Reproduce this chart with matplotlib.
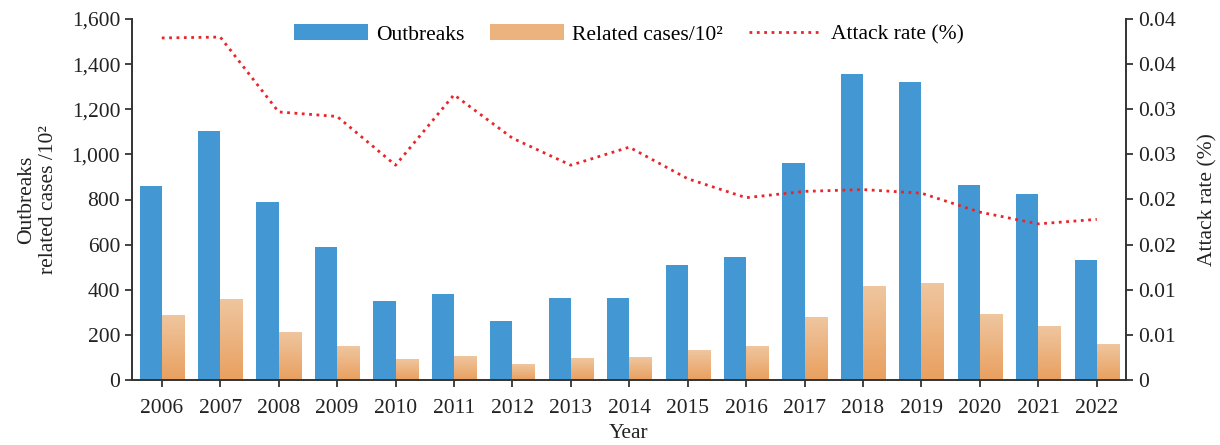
import numpy as np
import matplotlib
matplotlib.use('Agg')
import matplotlib.pyplot as plt
from matplotlib.patches import Patch
from matplotlib.lines import Line2D

plt.rcParams['font.family'] = ['Liberation Serif', 'DejaVu Serif']
plt.rcParams['font.size'] = 15.5

# ---- data
years = list(range(2006, 2023))
outbreaks = [860, 1105, 790, 590, 352, 380, 262, 362, 365, 510, 545, 960, 1355, 1320, 865, 825, 530]
cases_100 = [285, 358, 212, 150, 92, 105, 70, 97, 100, 132, 150, 277, 415, 428, 290, 238, 158]
attack_rate = [0.0379, 0.0380, 0.0297, 0.0292, 0.0238, 0.0316, 0.0268, 0.0238, 0.0258,
               0.0223, 0.0202, 0.0209, 0.0211, 0.0207, 0.0186, 0.0173, 0.0178]
left_ticks = [0, 200, 400, 600, 800, 1000, 1200, 1400, 1600]
right_ticks = [0, 0.005, 0.01, 0.015, 0.02, 0.025, 0.03, 0.035, 0.04]
right_labels = ['0', '0.01', '0.01', '0.02', '0.02', '0.03', '0.03', '0.04', '0.04']

blue = '#4398D3'
orange_top = np.array([0.937, 0.776, 0.624])
orange_bot = np.array([0.914, 0.627, 0.373])
red = '#E8262A'

fig = plt.figure(figsize=(12.2, 4.45), dpi=100)
ax = fig.add_axes([132 / 1220, 1 - 380 / 445, (1126 - 132) / 1220, (380 - 19) / 445])

x = np.arange(len(years))
w = 0.38
ax.bar(x - w / 2, outbreaks, width=w, color=blue, zorder=2)
obars = ax.bar(x + w / 2, cases_100, width=w, color='none', zorder=2)

# vertical gradient for the orange bars
grad = np.linspace(0, 1, 256)[:, None, None]
img = orange_bot + (orange_top - orange_bot) * grad
for b in obars:
    x0, h = b.get_x(), b.get_height()
    ax.imshow(img, extent=(x0, x0 + b.get_width(), 0, h), origin='lower',
              aspect='auto', zorder=2, interpolation='bilinear')

ax.set_xlim(-0.51, len(years) - 0.5)
ax.set_ylim(0, 1600)
ax.set_yticks(left_ticks)
ax.set_yticklabels([f'{v:,}' for v in left_ticks])
ax.set_xticks(x)
ax.set_xticklabels(years)
ax.tick_params(axis='both', direction='out', length=5, width=1.2, colors='#222222',
               labelcolor='#222222')
ax.tick_params(axis='x', pad=9)
for s in ['top', 'right']:
    ax.spines[s].set_visible(False)
for s in ['left', 'bottom']:
    ax.spines[s].set_linewidth(1.4)
    ax.spines[s].set_color('#333333')
ax.set_ylabel('Outbreaks\nrelated cases /10²', labelpad=10, color='#222222')
ax.set_xlabel('Year', labelpad=4, color='#222222')

ax2 = ax.twinx()
ax2.plot(x, attack_rate, linestyle=':', color=red, linewidth=2)
ax2.set_ylim(0, 0.04)
ax2.set_yticks(right_ticks)
ax2.set_yticklabels(right_labels)
ax2.tick_params(axis='y', direction='out', length=5, width=1.2, colors='#222222')
for s in ['top', 'left', 'bottom']:
    ax2.spines[s].set_visible(False)
ax2.spines['right'].set_linewidth(1.4)
ax2.spines['right'].set_color('#333333')
ax2.set_ylabel('Attack rate (%)', labelpad=16, color='#222222')

handles = [Patch(facecolor=blue),
           Patch(facecolor=(orange_top + orange_bot) / 2),
           Line2D([], [], linestyle=':', color=red, linewidth=2)]
labels = ['Outbreaks', 'Related cases/10²', 'Attack rate (%)']
ax2.legend(handles, labels, loc='upper center', bbox_to_anchor=(0.5, 1.04), ncol=3,
           frameon=False, handlelength=3.4, handleheight=0.8, columnspacing=1.2,
           handletextpad=0.4)

fig.savefig('out.png', dpi=100)
